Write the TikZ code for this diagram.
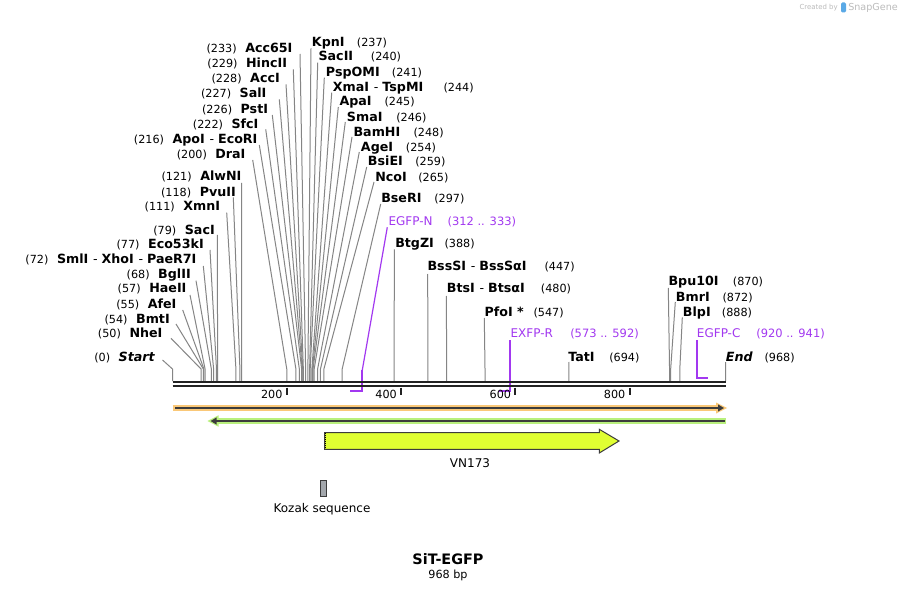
\documentclass[tikz,border=0pt]{standalone}
\usepackage{fontspec}
\setmainfont{DejaVu Sans}
\usetikzlibrary{arrows.meta}
\definecolor{cutgray}{HTML}{858585}
\definecolor{primer}{HTML}{A238F0}
\definecolor{bbdark}{HTML}{222222}
\definecolor{featline}{HTML}{3C3C3C}
\definecolor{orangef}{HTML}{FAC878}
\definecolor{greenf}{HTML}{B9F07D}
\definecolor{yellowf}{HTML}{E0FF32}
\definecolor{kozakf}{HTML}{A3A7AC}
\definecolor{logogray}{HTML}{BBBBBB}
\definecolor{logoblue}{HTML}{5AA9E6}
\newcommand{\sep}{\hspace{3.5pt}{\mdseries-}\hspace{3pt}}
\begin{document}
\begin{tikzpicture}[x=0.75pt,y=-0.75pt,
  nm/.style={font=\fontsize{9.5}{11}\selectfont\bfseries, inner sep=0pt},
  nb/.style={font=\fontsize{8.4}{10}\selectfont, inner sep=0pt},
  pr/.style={font=\fontsize{9}{11}\selectfont, text=primer, inner sep=0pt},
  prn/.style={font=\fontsize{8.6}{10}\selectfont, text=primer, inner sep=0pt},
  cut/.style={draw=cutgray, line width=0.75pt},
  primline/.style={draw=primer, line width=1.3pt},
  primlink/.style={draw=primer, line width=0.9pt},
  bb/.style={draw=bbdark, line width=1.75pt},
  tick/.style={draw=bbdark, line width=1.5pt},
  ticklbl/.style={font=\fontsize{8.4}{10}\selectfont, inner sep=0pt, anchor=east},
  featlbl/.style={font=\fontsize{9}{11}\selectfont, inner sep=0pt}
]
\useasboundingbox[fill=white] (0,0) rectangle (898,591);

% ---------- left labels ----------
\foreach \id/\name/\num/\ex/\ey/\lx/\ly/\bp in {
 L0/{\itshape Start}/0/155/356.7/162.5/360/0,
 L50/{NheI}/50/162.7/333.3/171/338.3/50,
 L54/{BmtI}/54/170/319/176/324/54,
 L55/{AfeI}/55/176.7/304/182.7/310/55,
 L57/{HaeII}/57/186.7/288.3/190/295/57,
 L68/{BglII}/68/191/274.3/196/280.7/68,
 L72/{SmlI\sep XhoI\sep PaeR7I}/72/196.7/259/203.3/266/72,
 L77/{Eco53kI}/77/204/244.3/210/250/77,
 L79/{SacI}/79/215/230/217.3/235/79,
 L111/{XmnI}/111/220.3/206.7/226.7/212.7/111,
 L118/{PvuII}/118/236/192.3/233.3/197.3/118,
 L121/{AlwNI}/121/241.7/176.7/241.7/183/121,
 L200/{DraI}/200/245.7/154/252.7/160/200,
 L216/{ApoI\sep EcoRI}/216/257.7/139/259.3/145/216,
 L222/{SfcI}/222/258.7/124.3/265.7/129.3/222,
 L226/{PstI}/226/268.3/109.3/272.3/115/226,
 L227/{SalI}/227/266.7/93.3/279.3/99.3/227,
 L228/{AccI}/228/280/78.3/286/84.3/228,
 L229/{HincII}/229/287.3/63.3/293.3/69.3/229,
 L233/{Acc65I}/233/292.7/48.3/300/54/233}
{
 \node[nm, anchor=base east] (n\id) at (\ex,{\ey+4.3}) {\name};
 \node[nb, anchor=base east] (k\id) at ([xshift=-6pt]n\id.base west) {(\num)};
 \coordinate (l\id) at (\lx,\ly);
 \coordinate (t\id) at ({172.5+\bp*0.5713},369);
 \coordinate (b\id) at ({172.5+\bp*0.5713},381);
 \draw[cut] (l\id) -- (t\id) -- (b\id);
}

% ---------- right labels ----------
\foreach \id/\name/\num/\nx/\ny/\kx/\lx/\ly/\bp in {
 R237/{KpnI}/237/311.7/42.3/356.7/311/48.3/237,
 R240/{SacII}/240/318.3/56.7/370.7/317.7/62.7/240,
 R241/{PspOMI}/241/325.7/72.3/391.7/324.3/77.7/241,
 R244/{XmaI\sep TspMI}/244/332.7/87.3/443.3/331.7/92.7/244,
 R245/{ApaI}/245/339.3/101.7/384.3/338.3/107/245,
 R246/{SmaI}/246/346.7/117.3/396/345.3/122/246,
 R248/{BamHI}/248/353.3/132.3/413.3/352/137/248,
 R254/{AgeI}/254/360.7/147.3/405.7/359.3/152/254,
 R259/{BsiEI}/259/367.7/161.7/415/366.7/167/259,
 R265/{NcoI}/265/375/177/418/374/182/265,
 R297/{BseRI}/297/381/198/434/380.7/204/297,
 R388/{BtgZI}/388/395/243.3/444.3/394.3/249.3/388,
 R447/{BssSI\sep BssSαI}/447/427.3/266.7/544.3/427.7/274/447,
 R480/{BtsI\sep BtsαI}/480/446.7/288.3/540.7/446.3/296/480,
 R547/{PfoI *}/547/484.3/311.7/533.3/484.3/318/547,
 R694/{TatI}/694/568/357/609/568.8/362/694,
 R870/{Bpu10I}/870/668.3/281.7/732.7/668.3/288/870,
 R872/{BmrI}/872/675.7/296.7/722.3/675.3/302/872,
 R888/{BlpI}/888/682.7/311.7/721.7/682.3/317.3/888,
 R968/{\itshape End}/968/725.7/356.7/764.3/725.5/362/968}
{
 \node[nm, anchor=base west] (n\id) at (\nx,{\ny+4.3}) {\name};
 \node[nb, anchor=base west] (k\id) at (\kx,{\ny+4.3}) {(\num)};
 \coordinate (l\id) at (\lx,\ly);
 \coordinate (t\id) at ({172.5+\bp*0.5713},369);
 \coordinate (b\id) at ({172.5+\bp*0.5713},381);
 \draw[cut] (l\id) -- (t\id) -- (b\id);
}

% ---------- primers ----------
\node[pr, anchor=base west] (pN) at (388.3,226) {EGFP-N};
\node[prn, anchor=base west] (pNk) at (447.3,226) {(312 .. 333)};
\coordinate (pNa) at (387.3,227.3);
\coordinate (pNb) at (362.3,370);
\coordinate (pNc) at (362.3,391);
\coordinate (pNd) at (350,391);
\draw[primlink] (pNa) -- (pNb);
\draw[primline] (pNb) -- (pNc) -- (pNd);

\node[pr, anchor=base west] (pR) at (510.3,337.6) {EXFP-R};
\node[prn, anchor=base west] (pRk) at (570,337.6) {(573 .. 592)};
\coordinate (pRa) at (510.3,340);
\coordinate (pRc) at (510.3,391);
\coordinate (pRd) at (499.3,391);
\draw[primline] (pRa) -- (pRc) -- (pRd);

\node[pr, anchor=base west] (pC) at (696.7,337.6) {EGFP-C};
\node[prn, anchor=base west] (pCk) at (756,337.6) {(920 .. 941)};
\coordinate (pCa) at (696.7,340);
\coordinate (pCc) at (696.7,378);
\coordinate (pCd) at (708,378);
\draw[primline] (pCa) -- (pCc) -- (pCd);

% ---------- backbone ----------
\coordinate (bb1l) at (172.5,382.2); \coordinate (bb1r) at (725.5,382.2);
\coordinate (bb2l) at (172.5,386.3); \coordinate (bb2r) at (725.5,386.3);
\draw[bb] (bb1l) -- (bb1r);
\draw[bb] (bb2l) -- (bb2r);
\foreach \t in {200,400,600,800}{
  \coordinate (tk\t a) at ({172.5+\t*0.5713},387.5);
  \coordinate (tk\t b) at ({172.5+\t*0.5713},395);
  \draw[tick] (tk\t a) -- (tk\t b);
  \node[ticklbl] (tl\t) at ({172.5+\t*0.5713-4},394) {\t};
}

% ---------- orange feature ----------
\coordinate (oL) at (172.5,408); \coordinate (oR) at (717,408);
\draw[draw=orangef, line width=4.5pt] (oL) -- (oR);
\fill[orangef] (716,402.5) -- (727,408) -- (716,413.5) -- cycle;
\coordinate (oL2) at (175,408); \coordinate (oT) at (724,408);
\draw[draw=featline, line width=1.2pt, -{Triangle[length=4.5pt,width=5pt]}] (oL2) -- (oT);

% ---------- green feature ----------
\coordinate (gR) at (726,421); \coordinate (gL) at (217,421);
\draw[draw=greenf, line width=4.5pt] (gR) -- (gL);
\fill[greenf] (218.5,415.3) -- (207.5,421) -- (218.5,426.7) -- cycle;
\coordinate (gR2) at (724.5,421); \coordinate (gT) at (210.5,421);
\draw[draw=featline, line width=1.2pt, -{Triangle[length=4.5pt,width=5pt]}] (gR2) -- (gT);

% ---------- VN173 ----------
\draw[fill=yellowf, draw=featline, line width=0.75pt]
  (324.5,432.7) -- (599.3,432.7) -- (599.3,429.3) -- (619,441) -- (599.3,453) -- (599.3,449.3) -- (324.5,449.3) -- cycle;
\coordinate (vdA) at (325.6,433); \coordinate (vdB) at (325.6,449);
\draw[draw=black, line width=1.2pt, dash pattern=on 0.75pt off 0.75pt] (vdA) -- (vdB);
\node[featlbl] (vn) at (470,463) {VN173};

% ---------- Kozak ----------
\draw[fill=kozakf, draw=featline, line width=0.75pt] (320,480) rectangle (326,496);
\node[featlbl] (kz) at (322,509) {Kozak sequence};

% ---------- title ----------
\node[font=\fontsize{10.8}{12}\selectfont\bfseries, inner sep=0pt] (title) at (448,559) {SiT-EGFP};
\node[font=\fontsize{8.4}{10}\selectfont, inner sep=0pt] (size) at (448,575) {968 bp};

% ---------- logo ----------
\node[font=\fontsize{5.2}{6}\selectfont, text=logogray, inner sep=0pt, anchor=east] (cb) at (838,7.5) {Created by};
\fill[logoblue, rounded corners=1pt] (841,2.5) rectangle (846,12.5);
\node[font=\fontsize{7.2}{8}\selectfont, text=logogray, inner sep=0pt, anchor=west] (sg) at (848,7.5) {SnapGene};
\end{tikzpicture}
\end{document}
